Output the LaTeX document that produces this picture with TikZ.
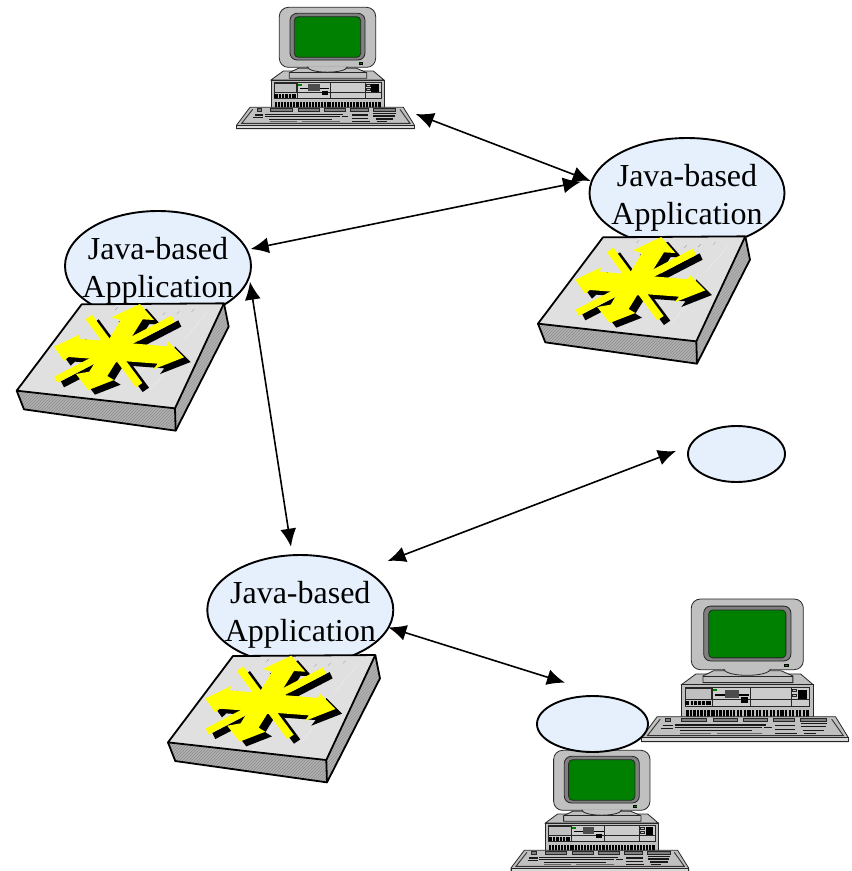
\documentclass[tikz,border=0pt]{standalone}
\usepackage{fontspec}
\setmainfont{Liberation Serif}
\usetikzlibrary{shapes.geometric,arrows.meta,patterns}
\definecolor{cgray}{HTML}{C0C0C0}
\definecolor{cdark}{HTML}{808080}
\definecolor{cgreen}{HTML}{008000}
\definecolor{bub}{HTML}{E6F0FD}
\definecolor{topface}{HTML}{E0E0E0}
\definecolor{sideface}{HTML}{B0B0B0}
\definecolor{cyel}{HTML}{FFFF00}
\newcommand{\starparts}[1]{%
  \fill[#1] (107,58)--(126,44)--(277,249)--(258,262)--cycle;
  \fill[#1] (13,230)--(22,248)--(374,66)--(365,47)--cycle;
  \fill[#1] (12,140)--(90,103)--(85,116)--(350,139)--(355,125)--(402,172)--(310,208)--(323,191)--(55,171)--(42,183)--cycle;
  \fill[#1] (270,12)--(312,60)--(278,58)--(172,228)--(192,240)--(115,270)--(78,222)--(118,215)--(212,60)--(185,52)--cycle;
  \fill[#1] (150,120)--(240,125)--(225,185)--(150,190)--(120,165)--cycle;
}
\tikzset{
  cline/.style={draw=black!85,line width=0.8pt},
  apparrow/.style={{Latex[length=18pt,width=16pt]}-{Latex[length=18pt,width=16pt]},line width=1.6pt,black},
  bubble/.style={ellipse,draw=black,line width=1.9pt,fill=bub,inner sep=0pt},
  bigbubble/.style={bubble,minimum width=186pt,minimum height=110pt},
  apptext/.style={align=center,inner sep=0pt,text=black,font=\fontsize{32}{38}\selectfont},
  switchbox/.pic={
    \fill[topface] (95,13)--(522,10)--(375,325)--(-100,272)--cycle;
    \foreach \a/\b in {195/30,338/45,380/42,425/35}{
      \draw[black!35,line width=0.4pt] (\a,\b)--++(8,-8);}
    \foreach \a/\b in {150/300,250/240,300/270,400/120,440/170}{
      \draw[black!8,line width=0.5pt] (\a,\b)--++(70,-80);}
    \fill[sideface] (-100,272)--(375,325)--(377,392)--(-78,328)--cycle;
    \fill[pattern=north east lines,pattern color=black!45] (-100,272)--(375,325)--(377,392)--(-78,328)--cycle;
    \fill[sideface] (522,10)--(536,80)--(377,392)--(375,325)--cycle;
    \fill[pattern=north east lines,pattern color=black!40] (522,10)--(536,80)--(377,392)--(375,325)--cycle;
    \draw[black,line width=1.8pt,line join=round] (95,13)--(522,10)--(375,325)--(-100,272)--cycle;
    \draw[black,line width=1.8pt,line join=round] (-100,272)--(-78,328)--(377,392)--(375,325);
    \draw[black,line width=1.8pt,line join=round] (522,10)--(536,80)--(377,392);
    \begin{scope}[shift={(20,14)}]\starparts{black}\end{scope}
    \starparts{cyel}
  },
  computer/.pic={
    % monitor
    \draw[cline,fill=cgray,rounded corners=9pt] (148,22) rectangle (437,202);
    \draw[cline,fill=cdark,rounded corners=7pt] (180,40) rectangle (405,180);
    \draw[cline,fill=cgreen,rounded corners=4pt] (193,50) rectangle (392,172);
    \fill[black] (387,187) rectangle (399,194);
    \fill[cgreen] (389,189) rectangle (397,192);
    % case top and stand
    \draw[cline,fill=cgray] (123,240)--(160,213)--(430,213)--(462,240)--cycle;
    \draw[cline,fill=cgray] (205,205)--(380,205)--(410,218)--(410,235)--(178,235)--(178,218)--cycle;
    \draw[cline] (178,218)--(410,218);
    \draw[cline,fill=cgray] (232,200) .. controls (235,222) and (350,222) .. (352,200);
    % case front
    \draw[cline,fill=cgray] (123,240) rectangle (462,325);
    \draw[cline,fill=black!20] (132,248) rectangle (453,295);
    \draw[cline] (202,248)--(202,295) (300,248)--(300,295) (405,248)--(405,295);
    \draw[cline] (202,278)--(453,278);
    % left bay
    \draw[cline,fill=cgray] (133,250) rectangle (200,278);
    \fill[black] (133,281) rectangle (198,293);
    \foreach \a in {143,153,163,173,183}{\fill[cgray] (\a,281) rectangle (\a+3,293);}
    % drive
    \fill[cgreen] (204,252) rectangle (215,257);
    \fill[black] (210,263) rectangle (298,268);
    \fill[black!70] (235,253) rectangle (270,273);
    \fill[black] (275,272) rectangle (293,286);
    % right controls
    \draw[cline,fill=cgray] (408,253) rectangle (420,258);
    \draw[cline,fill=cgray] (408,265) rectangle (420,270);
    \fill[black] (424,253) rectangle (446,276);
    % vent
    \fill[black] (135,305) rectangle (452,323);
    \foreach \a in {141,150,159,168,177,186,195,208,217,226,235,244,253,262,271,280,289,302,311,320,329,338,347,356,365,374,387,396,405,414,423,432,441}{
      \fill[cgray] (\a,305) rectangle (\a+3,323);}
    % keyboard
    \draw[cline,fill=cgray] (60,322)--(520,322)--(553,375)--(553,386)--(20,386)--(20,375)--cycle;
    \draw[cline,fill=black!15] (20,375) rectangle (553,386);
    \draw[black!80,line width=0.9pt] (68,328)--(35,370)--(540,370)--(510,328);
    \foreach \a/\b in {122/186,205/268,282/345,360/415,430/497}{
      \draw[cline,fill=cdark] (\a,325) rectangle (\b,334);}
    \draw[cline,fill=cdark] (82,326) rectangle (95,334);
    \foreach \xa/\ya/\xb in {105/343/340,105/350/330,118/358/305,335/350/355,365/345/415,365/355/415,430/340/498,430/348/495,437/357/490,75/345/100,70/353/100,365/364/420,440/364/470}{
      \draw[black!90,line width=1.1pt] (\xa,\ya)--(\xb,\ya);}
    \draw[black!60,line width=1.4pt] (120,364)--(200,364) (215,364)--(330,364);
  }
}
\begin{document}
\begin{tikzpicture}[x=1pt,y=-1pt]
\useasboundingbox (0,0) rectangle (852,871);
\fill[white] (0,0) rectangle (852,871);

% computers
\pic[xscale=1/3,yscale=1/3] at (230,0) {computer};
\pic[xscale=0.3877,yscale=0.3923] at (633.9,590.4) {computer};
\pic[xscale=1/3,yscale=1/3] at (504.3,743) {computer};

% bubbles
\node[bigbubble] (appA) at (158,266) {};
\node[bigbubble,minimum width=195pt] (appB) at (687,193) {};
\node[bigbubble] (appC) at (300.3,610) {};
\node[bubble,minimum width=97pt,minimum height=56pt] (bubS) at (736.5,454) {};
\node[bubble,minimum width=111pt,minimum height=56pt] (bubT) at (592.5,724) {};

\node[apptext] (txtA) at (158,270.5) {Java-based\\Application};
\node[apptext] (txtB) at (687,197.5) {Java-based\\Application};
\node[apptext] (txtC) at (300.3,614.5) {Java-based\\Application};

% switches
\pic[scale=1/3] at (50,300) {switchbox};
\pic[scale=1/3] at (571.3,233) {switchbox};
\pic[scale=1/3] at (201.3,651.7) {switchbox};

% connectors
\coordinate (pcTop) at (415.7,114);
\coordinate (bR1) at (590.7,181);
\coordinate (bR2) at (581,181.7);
\coordinate (aR1) at (250.7,249);
\coordinate (aR2) at (250,281.7);
\coordinate (cT) at (291,546.7);
\coordinate (cR1) at (387.7,561);
\coordinate (sL) at (676,451);
\coordinate (cR2) at (388.3,627.3);
\coordinate (tT) at (565,682.7);
\draw[apparrow] (pcTop)--(bR1);
\draw[apparrow] (aR1)--(bR2);
\draw[apparrow] (aR2)--(cT);
\draw[apparrow] (cR1)--(sL);
\draw[apparrow] (cR2)--(tT);
\end{tikzpicture}
\end{document}
